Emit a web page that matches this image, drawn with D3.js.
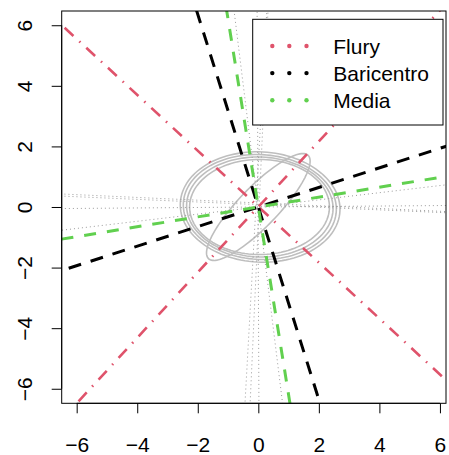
<!DOCTYPE html>
<html><head><meta charset="utf-8">
<script src="https://cdn.jsdelivr.net/npm/d3@7"></script>
<style>html,body{margin:0;padding:0;background:#fff;}svg{display:block;}</style>
</head><body>
<script>
// ---- data ----
const xTicks = [-6, -4, -2, 0, 2, 4, 6];
const yTicks = [-6, -4, -2, 0, 2, 4, 6];
const seriesNames = ["Flury", "Baricentro", "Media"];
const seriesColors = ["#DF536B", "#000000", "#61D04F"];
// two perpendicular axes per series: slope and intercept (y = slope*x + intercept)
const flurySlopes = [1.081, -0.923];
const baricentroSlopes = [0.323, -3.18];
const mediaSlopes = [0.163, -6.2];
const seriesIntercepts = [0.006, 0.01];
// group axes (gray dotted): near-horizontal, y = slope*x + intercept
const grayHSlopes = [-0.0457, -0.0433, 0.0079, 0.118];
const grayHIntercepts = [0.133, 0.079, 0.0, 0.0];
// near-vertical, x = k*y + c
const grayVK = [-0.1236, 0.0456, 0.0556, -0.0046];
const grayVC = [0.0, 0.025, -0.08, -0.01];
// group ellipses: centre, semi-axes, rotation (deg)
const ellCX = [0.06, 0.05, 0.05, 0.04, 0.0];
const ellCY = [0.0, 0.0, 0.0, 0.0, 0.0];
const ellRX = [2.64, 2.53, 2.42, 2.31, 2.37];
const ellRY = [1.82, 1.73, 1.65, 1.57, 0.65];
const ellAngle = [-3, -3, -2, 0, 46];

// ---- layout ----
const W = 449, H = 455;
const L = 61.7, R = 446, T = 11, B = 403.3;
const svg = d3.select("body").append("svg").attr("width", W).attr("height", H);
const x = d3.scaleLinear().domain([-6.495, 6.20]).range([L, R]);
const y = d3.scaleLinear().domain([-6.48, 6.47]).range([B, T]);

svg.append("clipPath").attr("id", "clip").append("rect")
  .attr("x", L).attr("y", T).attr("width", R - L).attr("height", B - T);
const g = svg.append("g").attr("clip-path", "url(#clip)");
const line = d3.line().x(d => x(d[0])).y(d => y(d[1]));

// ellipses
const ts = d3.range(0, 361, 3).map(a => a * Math.PI / 180);
ellCX.forEach((cx, i) => {
  const th = ellAngle[i] * Math.PI / 180;
  const pts = ts.map(t => {
    const ex = ellRX[i] * Math.cos(t), ey = ellRY[i] * Math.sin(t);
    return [cx + ex * Math.cos(th) - ey * Math.sin(th), ellCY[i] + ex * Math.sin(th) + ey * Math.cos(th)];
  });
  g.append("path").attr("d", line(pts)).attr("fill", "none")
    .attr("stroke", "#bebebe").attr("stroke-width", 1.6);
});

// gray dotted axes
grayHSlopes.forEach((m, i) => {
  g.append("path").attr("d", line([[-20, m * -20 + grayHIntercepts[i]], [20, m * 20 + grayHIntercepts[i]]]))
    .attr("fill", "none").attr("stroke", "#9a9a9a").attr("stroke-width", 1).attr("stroke-dasharray", "1,3");
});
grayVK.forEach((k, i) => {
  g.append("path").attr("d", line([[k * -20 + grayVC[i], -20], [k * 20 + grayVC[i], 20]]))
    .attr("fill", "none").attr("stroke", "#9a9a9a").attr("stroke-width", 1).attr("stroke-dasharray", "1,3");
});

// series axes
const seriesSlopes = [flurySlopes, baricentroSlopes, mediaSlopes];
const dashes = ["12,8,1.5,8", "13,10", "12,11"];
const widths = [2.6, 3, 3];
seriesSlopes.forEach((sl, s) => {
  sl.forEach((m, j) => {
    const b = s === 0 ? seriesIntercepts[j] : 0;
    const pts = Math.abs(m) > 1
      ? [[(-20 - b) / m, -20], [(20 - b) / m, 20]]
      : [[-20, m * -20 + b], [20, m * 20 + b]];
    g.append("path").attr("d", line(pts)).attr("fill", "none")
      .attr("stroke", seriesColors[s]).attr("stroke-width", widths[s])
      .attr("stroke-dasharray", dashes[s]);
  });
});

// box
svg.append("rect").attr("x", L).attr("y", T).attr("width", R - L).attr("height", B - T)
  .attr("fill", "none").attr("stroke", "#000").attr("stroke-width", 1);

// axes
const fmt = d => (d < 0 ? "\u2212" + Math.abs(d) : String(d));
const xa = svg.append("g").attr("transform", `translate(0,${B})`)
  .call(d3.axisBottom(x).tickValues(xTicks).tickSize(10).tickPadding(0).tickFormat(fmt));
xa.select(".domain").attr("d", `M${x(-6)},0H${x(6)}`);
xa.selectAll("text").attr("y", 48.4).attr("dy", null)
  .attr("font-family", "Liberation Sans, Arial, sans-serif").attr("font-size", 21).attr("fill", "#000");
const ya = svg.append("g").attr("transform", `translate(${L},0)`)
  .call(d3.axisLeft(y).tickValues(yTicks).tickSize(10).tickPadding(0).tickFormat(fmt));
ya.select(".domain").attr("d", `M0,${y(-6)}V${y(6)}`);
ya.selectAll("text").attr("x", null).attr("dy", null).attr("text-anchor", "middle")
  .attr("transform", "translate(-30,0) rotate(-90)")
  .attr("font-family", "Liberation Sans, Arial, sans-serif").attr("font-size", 21).attr("fill", "#000");
svg.selectAll(".tick line").attr("stroke", "#000");
svg.selectAll(".domain").attr("stroke", "#000");

// legend
const lg = svg.append("g");
lg.append("rect").attr("x", 252.7).attr("y", 19.3).attr("width", 190.3).attr("height", 105.7)
  .attr("fill", "#fff").attr("stroke", "#000").attr("stroke-width", 1);
seriesNames.forEach((n, i) => {
  const cy = 46 + i * 27.1;
  [272.3, 289.3, 306.5].forEach(cx => {
    lg.append("circle").attr("cx", cx).attr("cy", cy).attr("r", 2.2).attr("fill", seriesColors[i]);
  });
  lg.append("text").attr("x", 333.3).attr("y", cy + 7.6).text(n)
    .attr("font-family", "Liberation Sans, Arial, sans-serif").attr("font-size", 21).attr("fill", "#000");
});
</script>
</body></html>
